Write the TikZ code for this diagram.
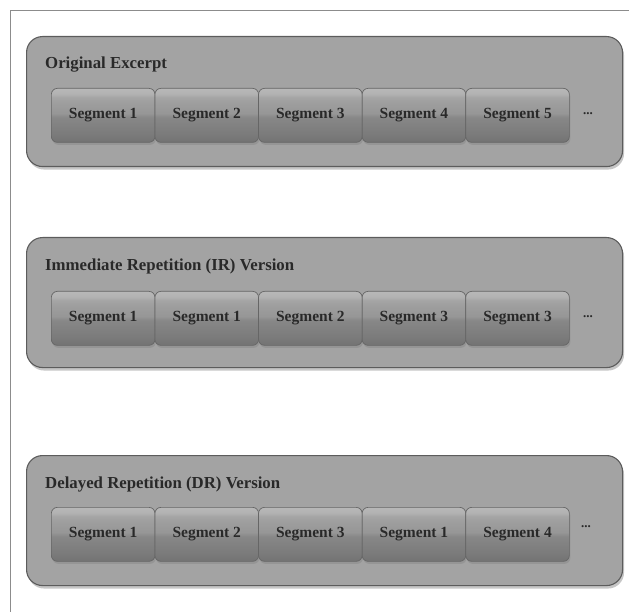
\documentclass[tikz,border=0pt]{standalone}
\usepackage{fontspec}
\setmainfont{Liberation Serif}
\usetikzlibrary{shadows}

\definecolor{framecol}{gray}{0.55}
\definecolor{panelfill}{gray}{0.64}
\definecolor{paneledge}{gray}{0.36}
\definecolor{segedge}{gray}{0.40}
\definecolor{segtext}{gray}{0.16}
\definecolor{segA}{gray}{0.45}
\definecolor{segB}{gray}{0.48}
\definecolor{segC}{gray}{0.53}
\definecolor{segD}{gray}{0.59}
\definecolor{segE}{gray}{0.62}
\definecolor{segF}{gray}{0.65}
\definecolor{segG}{gray}{0.70}
\definecolor{segH}{gray}{0.72}

% glossy button shading, light on top and dark below the middle
\pgfdeclareverticalshading{segshade}{100bp}{%
  color(0bp)=(segA); color(25bp)=(segA); color(32bp)=(segB);
  color(48bp)=(segC); color(52bp)=(segD); color(62bp)=(segE);
  color(67bp)=(segF); color(70bp)=(segG); color(75bp)=(segH);
  color(100bp)=(segH)}

\tikzset{
  panel/.style={draw=paneledge, line width=1.1pt, fill=panelfill,
    rounded corners=16pt, anchor=north west,
    minimum width=596pt, minimum height=130pt,
    drop shadow={shadow xshift=1.5pt, shadow yshift=-3pt, opacity=0.45}},
  segbox/.style={draw=segedge, line width=0.7pt, shading=segshade,
    rounded corners=6pt, anchor=north west, inner sep=0pt,
    minimum width=103.6pt, minimum height=54pt, text=segtext,
    font=\fontsize{15.5}{18}\selectfont\bfseries,
    drop shadow={shadow xshift=1pt, shadow yshift=-2.5pt, opacity=0.4}},
  paneltitle/.style={anchor=west, inner sep=0pt, text=segtext,
    font=\fontsize{16.8}{19}\selectfont\bfseries},
  dots/.style={inner sep=0pt, text=segtext,
    font=\fontsize{13}{15}\selectfont\bfseries}
}

\begin{document}
\begin{tikzpicture}[x=1pt, y=-1pt]
  \useasboundingbox (0,0) rectangle (629,612);

  % page frame along the top and left edges
  \coordinate (fbl) at (10,612);
  \coordinate (ftl) at (10,10);
  \coordinate (ftr) at (629,10);
  \draw[framecol, line width=0.9pt] (fbl) -- (ftl) -- (ftr);

  % the three panels
  \node[panel] (p1) at (26,36) {};
  \node[panel] (p2) at (26,237) {};
  \node[panel] (p3) at (26,455) {};

  \node[paneltitle] (t1) at (45,65) {Original Excerpt};
  \node[paneltitle] (t2) at (45,266) {Immediate Repetition (IR) Version};
  \node[paneltitle] (t3) at (45,484) {Delayed Repetition (DR) Version};

  % segment rows
  \foreach \lab [count=\i] in {1,2,3,4,5}
    \node[segbox] (a\i) at ({51+103.6*(\i-1)},88) {\raisebox{3pt}{Segment \lab}};
  \foreach \lab [count=\i] in {1,1,2,3,3}
    \node[segbox] (b\i) at ({51+103.6*(\i-1)},291) {\raisebox{3pt}{Segment \lab}};
  \foreach \lab [count=\i] in {1,2,3,1,4}
    \node[segbox] (c\i) at ({51+103.6*(\i-1)},507) {\raisebox{3pt}{Segment \lab}};

  \node[dots] (d1) at (588,114) {...};
  \node[dots] (d2) at (588,317) {...};
  \node[dots] (d3) at (586,527) {...};
\end{tikzpicture}
\end{document}
